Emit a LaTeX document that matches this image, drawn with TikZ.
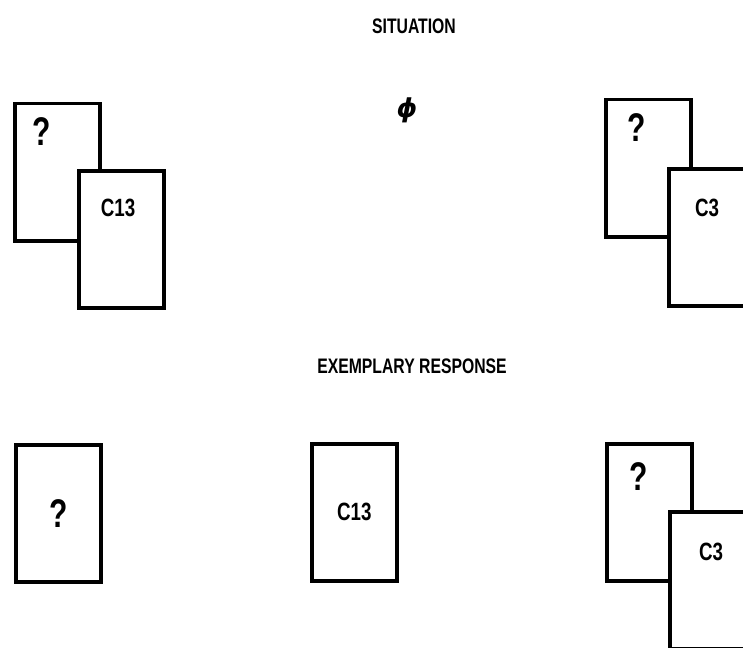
\documentclass[tikz,border=0pt]{standalone}
\usepackage{fontspec}
\newfontfamily\cardfont[FakeStretch=0.75]{Liberation Sans}
\newfontfamily\symfont{DejaVu Sans}
\usetikzlibrary{positioning}
\tikzset{%
	card/.style = { draw, line width=3.5pt, fill=white, inner sep=0pt, anchor=north west, minimum width=85pt, minimum height=137pt },
	heading/.style = { font=\cardfont\bfseries\fontsize{21}{21}\selectfont },
	qmark/.style = { font=\cardfont\bfseries\fontsize{40}{40}\selectfont },
	cname/.style = { font=\cardfont\bfseries\fontsize{25}{25}\selectfont }
}
\begin{document}
\begin{tikzpicture}[x=1pt, y=-1pt]
	\useasboundingbox (0,0) rectangle (743,647);
	\clip (0,0) rectangle (743,647);
	% titles
	\node[heading] (sit) at (414,26) {SITUATION};
	\node[heading] (resp) at (412,366) {EXEMPLARY RESPONSE};
	\node[font=\symfont\bfseries\itshape\fontsize{26}{26}\selectfont] (empty) at (407,110) {ϕ};
	% situation, left pair
	\node[card] (sitLback) at (13,102) {};
	\node[qmark] (sitLq) at (42,132) {?};
	\node[card] (sitLfront) at (77,169) {};
	\node[cname] (sitLname) at (118,208) {C13};
	% situation, right pair
	\node[card] (sitRback) at (604,98) {};
	\node[qmark] (sitRq) at (637,128) {?};
	\node[card] (sitRfront) at (667,167) {};
	\node[cname] (sitRname) at (707,208) {C3};
	% response
	\node[card, qmark] (resL) at (14,443) {?};
	\node[card, cname] (resM) at (310,442) {C13};
	\node[card] (resRback) at (605,442) {};
	\node[qmark] (resRq) at (639,477) {?};
	\node[card] (resRfront) at (668,510) {};
	\node[cname] (resRname) at (711,552) {C3};
\end{tikzpicture}
\end{document}
